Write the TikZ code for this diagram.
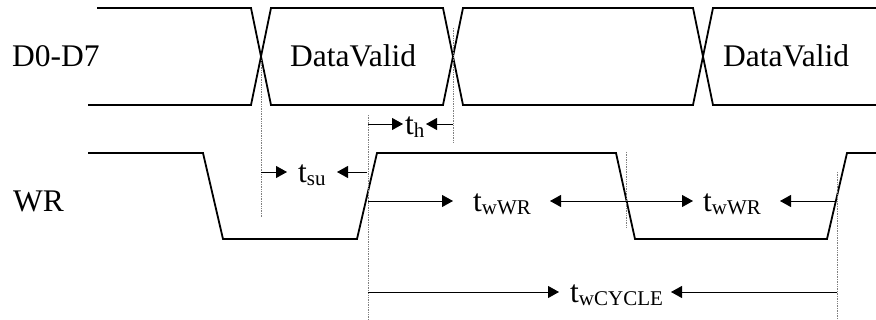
\documentclass[tikz,border=0pt]{standalone}
\usepackage{fontspec}
\setmainfont{Liberation Serif}
\usetikzlibrary{arrows.meta}
\newcommand{\tsub}[1]{t\raisebox{-3pt}{\fontsize{21}{21}\selectfont #1}}
\begin{document}
\begin{tikzpicture}[x=1pt,y=-1pt,
  sig/.style={line width=1.8pt, line join=miter},
  guide/.style={gray, line width=0.7pt, densely dotted},
  dim/.style={line width=0.9pt, -{Triangle[length=11pt,width=12pt]}},
  lbl/.style={inner sep=0pt, anchor=base west, font=\fontsize{31.5}{36}\selectfont}]
\useasboundingbox (0,0) rectangle (876,320);
% bus D0-D7
\draw[sig] (97,8) -- (251,8) -- (271,105) -- (443,105) -- (463,8) -- (693,8) -- (713,105) -- (876,105);
\draw[sig] (88,105) -- (251,105) -- (271,8) -- (443,8) -- (463,105) -- (693,105) -- (713,8) -- (876,8);
% WR
\draw[sig] (88,153) -- (203,153) -- (223,239) -- (357,239) -- (377,153) -- (616,153) -- (635,239) -- (827,239) -- (847,153) -- (876,153);
% guides
\draw[guide] (261,60) -- (261,218);
\draw[guide] (453,28) -- (453,142);
\draw[guide] (368,115) -- (368,320);
\draw[guide] (626,152) -- (626,227);
\draw[guide] (837,172) -- (837,320);
% labels
\node[lbl] (d07) at (12,67) {D0-D7};
\node[lbl] (dv1) at (290,67) {DataValid};
\node[lbl] (dv2) at (723,67) {DataValid};
\node[lbl] (wr) at (13,212) {WR};
\node[lbl] (tsu) at (298,183) {\tsub{su}};
\node[lbl] (th) at (405,135) {\tsub{h}};
\node[lbl] (tw1) at (473,212) {\tsub{wWR}};
\node[lbl] (tw2) at (703,212) {\tsub{wWR}};
\node[lbl] (tcy) at (570,303) {\tsub{wCYCLE}};
% dimension coordinates
\coordinate (su0) at (261,172); \coordinate (su1) at (287,172);
\coordinate (su3) at (367,172); \coordinate (su2) at (337,172);
\coordinate (h0) at (368,124); \coordinate (h1) at (403,124);
\coordinate (h3) at (453,124); \coordinate (h2) at (426,124);
\coordinate (w0) at (368,201); \coordinate (w1) at (453,201);
\coordinate (wm) at (626,201); \coordinate (w2) at (550,201);
\coordinate (w3) at (693,201);
\coordinate (w5) at (836,201); \coordinate (w4) at (780,201);
\coordinate (c0) at (368,292); \coordinate (c1) at (559,292);
\coordinate (c3) at (837,292); \coordinate (c2) at (671,292);
\draw[dim] (su0) -- (su1);
\draw[dim] (su3) -- (su2);
\draw[dim] (h0) -- (h1);
\draw[dim] (h3) -- (h2);
\draw[dim] (w0) -- (w1);
\draw[dim] (wm) -- (w2);
\draw[dim] (wm) -- (w3);
\draw[dim] (w5) -- (w4);
\draw[dim] (c0) -- (c1);
\draw[dim] (c3) -- (c2);
\end{tikzpicture}
\end{document}
